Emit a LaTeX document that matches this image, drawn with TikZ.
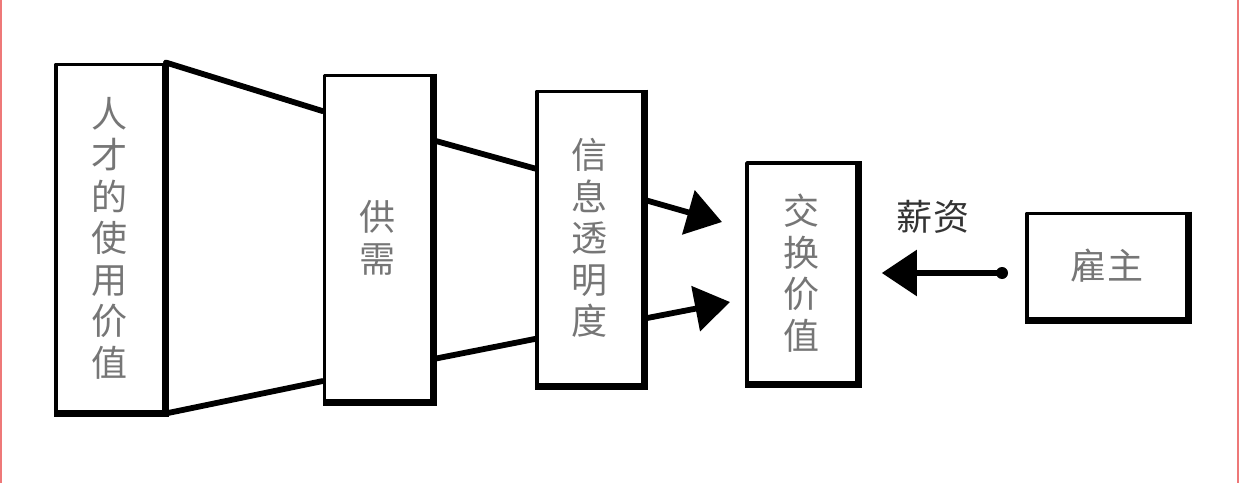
\documentclass[tikz,border=0pt]{standalone}
\usepackage{fontspec}
\newfontfamily\cjk{Noto Sans CJK SC}
\usetikzlibrary{arrows.meta,calc}
\definecolor{txtgray}{RGB}{118,118,118}
\definecolor{edgered}{RGB}{238,120,120}
\begin{document}
\begin{tikzpicture}[x=0.2mm,y=-0.2mm,line join=round,line cap=round,font=\cjk\fontsize{20.5}{23.6}\selectfont]
			\tikzset{box/.style={draw,line width=2.2pt,fill=white,text=txtgray,align=center,inner sep=0pt},
				link/.style={line width=3.3pt},
				bigarrow/.style={line width=3.3pt,-{Triangle[length=7mm,width=9mm]}}}
			\useasboundingbox (0,0) rectangle (1240,483);
			\draw[edgered,line width=0.6pt] (1,0)--(1,483);
			\draw[edgered,line width=0.6pt] (1238,0)--(1238,483);
			% boxes
			\node[box,minimum width=21.6mm,minimum height=69.4mm] (renc) at (110,238) {人\\才\\的\\使\\用\\价\\值};
			\node[box,minimum width=21.4mm,minimum height=65mm] (gongxu) at (378,238) {供\\需};
			\node[box,minimum width=21.2mm,minimum height=58.6mm] (xinxi) at (590,238) {信\\息\\透\\明\\度};
			\node[box,minimum width=22mm,minimum height=44mm] (jiaohuan) at (802,273) {交\\换\\价\\值};
			\node[box,minimum width=32mm,minimum height=21mm] (guzhu) at (1107,266) {雇主};
			\foreach \n in {renc,gongxu,xinxi,jiaohuan,guzhu}
				\draw[line width=3.6pt,line cap=butt,line join=miter] (\n.north east)--(\n.south east)--(\n.south west);
			% funnel
			\draw[link] (renc.north east)--($(gongxu.north west)!0.114!(gongxu.south west)$);
			\draw[link] (renc.south east)--($(gongxu.north west)!0.935!(gongxu.south west)$);
			\draw[link] ($(gongxu.north east)!0.203!(gongxu.south east)$)--($(xinxi.north west)!0.266!(xinxi.south west)$);
			\draw[link] ($(gongxu.north east)!0.868!(gongxu.south east)$)--($(xinxi.north west)!0.84!(xinxi.south west)$);
			% arrows
			\coordinate (tipa) at (722,222);
			\coordinate (tipb) at (730,302);
			\coordinate (dot) at (1002,273);
			\draw[bigarrow] ($(xinxi.north east)!0.372!(xinxi.south east)$)--(tipa);
			\draw[bigarrow] ($(xinxi.north east)!0.771!(xinxi.south east)$)--(tipb);
			\fill (dot) circle (6);
			\draw[bigarrow,shorten >=13] (dot)--(jiaohuan.east |- dot);
			\node[text=black!80] (xinzi) at (933,217) {薪资};
		\end{tikzpicture}
\end{document}
